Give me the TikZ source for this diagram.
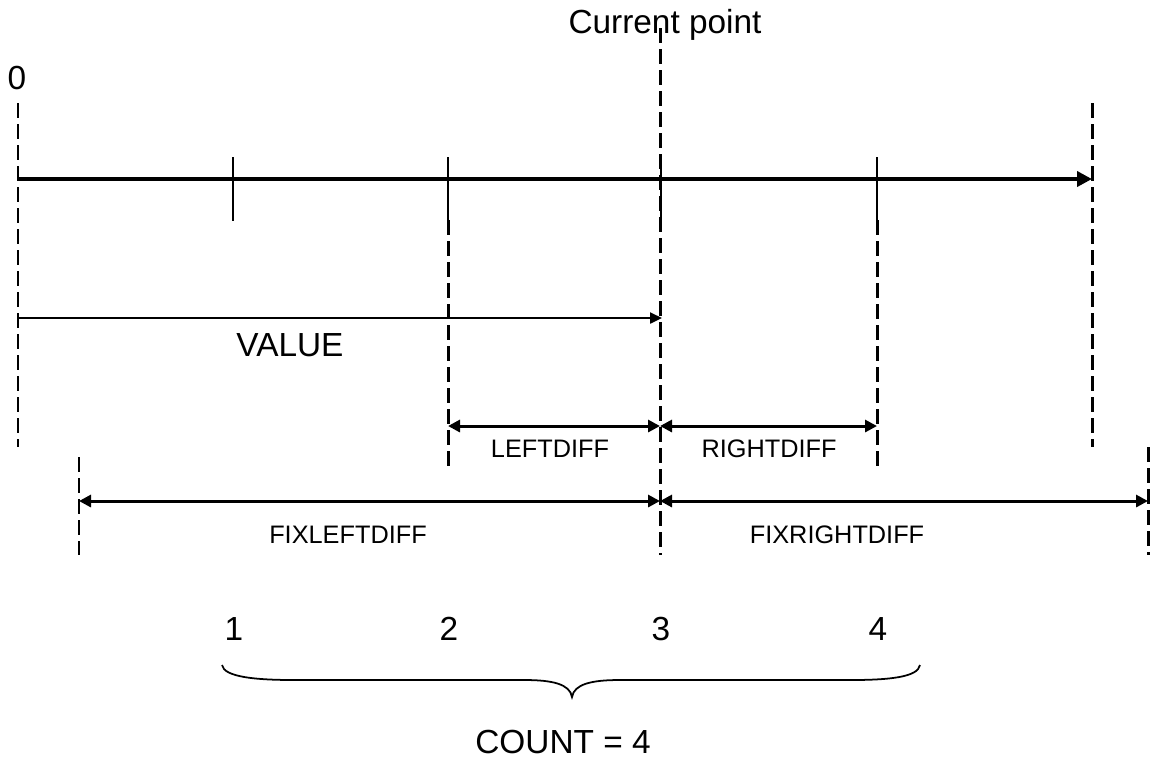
\documentclass[tikz,border=0pt]{standalone}
\usepackage{fontspec}
\setmainfont{Liberation Sans}
\usepackage{tikz}
\usetikzlibrary{arrows.meta,positioning,calc}

\begin{document}
\begin{tikzpicture}[
    mainaxis/.style={line width=1.25pt, -{Triangle[length=0.15cm, width=0.15cm]}},
    guide/.style={line width=0.85pt, dash pattern=on 0.15cm off 0.06cm},
    tickmark/.style={line width=0.4pt},
    valarrow/.style={line width=0.65pt, -{Triangle[length=0.12cm, width=0.11cm]}},
    dimarrow/.style={line width=0.85pt, {Triangle[length=0.12cm, width=0.12cm]}-{Triangle[length=0.12cm, width=0.12cm]}},
    biglbl/.style={inner sep=0pt, font=\fontsize{9.5}{11}\selectfont},
    smalllbl/.style={inner sep=0pt, font=\fontsize{7.2}{9}\selectfont}
]
\useasboundingbox (0,0) rectangle (11.53,-7.58);

% Points on the axis
\coordinate (zero) at (0.18,-1.79);
\coordinate (pone) at (2.33,-1.79);
\coordinate (ptwo) at (4.48,-1.79);
\coordinate (cur) at (6.60,-1.79);
\coordinate (pfour) at (8.77,-1.79);
\coordinate (axend) at (10.92,-1.79);

% Labels on top
\node[biglbl] (lblzero) at (0.17,-0.78) {0};
\node[biglbl] (lblcur) at (6.65,-0.25) {Current point};

% Axis
\draw[mainaxis] (zero) -- (axend);

% Tick marks
\foreach \p in {pone, ptwo, pfour} {
  \draw[tickmark] ($(\p)+(0,0.22)$) -- ($(\p)+(0,-0.42)$);
}
\draw[tickmark] ($(cur)+(0.01,0.22)$) -- ($(cur)+(0.01,-0.42)$);

% Dashed guides
\draw[guide] (0.18,-1.03) -- (0.18,-4.47);
\draw[guide] (4.48,-2.20) -- (4.48,-4.67);
\draw[guide] (6.60,-0.28) -- (6.60,-5.55);
\draw[guide] (8.77,-2.20) -- (8.77,-4.67);
\draw[guide] (10.92,-1.03) -- (10.92,-4.47);
\draw[guide] (0.79,-4.57) -- (0.79,-5.55);
\draw[guide] (11.48,-4.47) -- (11.48,-5.55);

% Value
\coordinate (vstart) at (0.18,-3.18);
\coordinate (vend) at (6.62,-3.18);
\draw[valarrow] (vstart) -- (vend);
\node[biglbl] (lblval) at (2.90,-3.45) {VALUE};

% Left and right differences
\coordinate (ldstart) at (4.48,-4.26);
\coordinate (dmid) at (6.60,-4.26);
\coordinate (rdend) at (8.77,-4.26);
\draw[dimarrow] (ldstart) -- (dmid);
\draw[dimarrow] (dmid) -- (rdend);
\node[smalllbl] (lblld) at (5.50,-4.49) {LEFTDIFF};
\node[smalllbl] (lblrd) at (7.69,-4.49) {RIGHTDIFF};

% Fixed differences
\coordinate (flstart) at (0.79,-5.01);
\coordinate (fmid) at (6.60,-5.01);
\coordinate (frend) at (11.48,-5.01);
\draw[dimarrow] (flstart) -- (fmid);
\draw[dimarrow] (fmid) -- (frend);
\node[smalllbl] (lblfl) at (3.48,-5.35) {FIXLEFTDIFF};
\node[smalllbl] (lblfr) at (8.37,-5.35) {FIXRIGHTDIFF};

% Count
\foreach \x/\n in {2.34/1, 4.49/2, 6.61/3, 8.78/4} {
  \node[biglbl] (num\n) at (\x,-6.29) {\n};
}
\draw[line width=0.5pt] (2.22,-6.65) .. controls (2.24,-6.77) and (2.55,-6.80) .. (2.95,-6.80)
  -- (5.25,-6.80) .. controls (5.52,-6.80) and (5.70,-6.84) .. (5.72,-6.97)
  .. controls (5.74,-6.84) and (5.92,-6.80) .. (6.19,-6.80)
  -- (8.50,-6.80) .. controls (8.90,-6.80) and (9.18,-6.77) .. (9.20,-6.65);
\node[biglbl] (lblcount) at (5.63,-7.42) {COUNT = 4};

\end{tikzpicture}
\end{document}
